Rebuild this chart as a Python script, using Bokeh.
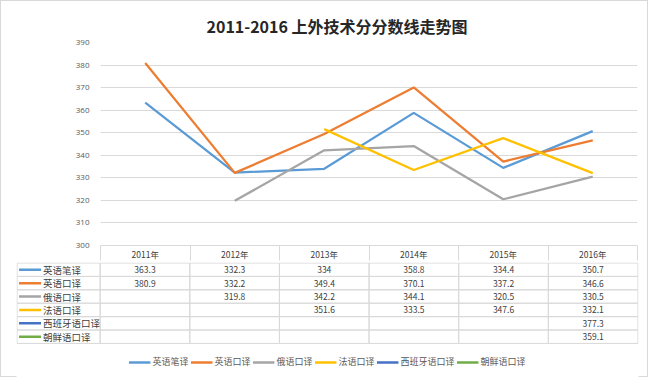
from bokeh.plotting import figure
from bokeh.models import Range1d, FixedTicker, Legend, LegendItem
from bokeh.embed import file_html
from bokeh.resources import INLINE
from bokeh.core.properties import value

title = "2011-2016 上外技术分分数线走势图"
years = ["2011年", "2012年", "2013年", "2014年", "2015年", "2016年"]
series_names = ["英语笔译", "英语口译", "俄语口译", "法语口译", "西班牙语口译", "朝鲜语口译"]
yingyu_bi = [363.3, 332.3, 334, 358.8, 334.4, 350.7]
yingyu_kou = [380.9, 332.2, 349.4, 370.1, 337.2, 346.6]
eyu_kou = [None, 319.8, 342.2, 344.1, 320.5, 330.5]
fayu_kou = [None, None, 351.6, 333.5, 347.6, 332.1]
xibanya_kou = [None, None, None, None, None, 377.3]
chaoxian_kou = [None, None, None, None, None, 359.1]
y_ticks = [300, 310, 320, 330, 340, 350, 360, 370, 380, 390]

series_values = [yingyu_bi, yingyu_kou, eyu_kou, fayu_kou, xibanya_kou, chaoxian_kou]
colors = ["#5B9BD5", "#ED7D31", "#A5A5A5", "#FFC000", "#4472C4", "#70AD47"]
FONT = "Noto Sans CJK SC"
GRID = "#d9d9d9"
n = len(years)
centers = [j + 0.5 for j in range(n)]

# ---------- chart (with header row as its x axis) ----------
p = figure(width=648, height=262, x_range=Range1d(0, n),
           y_range=Range1d(y_ticks[0], y_ticks[-1]),
           output_backend="svg", toolbar_location=None,
           min_border_left=100, min_border_right=11, min_border_top=42,
           min_border_bottom=15)
p.border_fill_color = None
p.styles = {"box-shadow": "inset 1px 1px 0 0 #d9d9d9, inset -1px 0 0 0 #d9d9d9"}
p.title.text = title
p.title.align = "left"
p.title.offset = 106
p.title.text_font = FONT
p.title.text_font_size = "16px"
p.title.text_font_style = "bold"
p.title.text_color = "#262626"
p.xgrid.visible = False
p.ygrid.grid_line_color = GRID
p.yaxis.ticker = FixedTicker(ticks=y_ticks)
p.yaxis.axis_line_color = None
p.yaxis.major_tick_line_color = None
p.yaxis.minor_tick_line_color = None
p.yaxis.major_label_text_font_size = "8px"
p.yaxis.major_label_text_color = "#595959"
p.yaxis.major_label_text_font = "Open Sans"
p.yaxis.major_label_standoff = 5

p.xaxis.ticker = FixedTicker(ticks=centers, minor_ticks=list(range(n + 1)))
p.xaxis.major_label_overrides = {c: y for c, y in zip(centers, years)}
p.xaxis.axis_line_color = GRID
p.xaxis.major_tick_line_color = None
p.xaxis.major_tick_out = 0
p.xaxis.major_tick_in = 0
p.xaxis.minor_tick_line_color = GRID
p.xaxis.minor_tick_out = 15
p.xaxis.minor_tick_in = 0
p.xaxis.major_label_standoff = -13
p.xaxis.major_label_text_font = FONT
p.xaxis.major_label_text_font_size = "8.5px"
p.xaxis.major_label_text_color = "#404040"
p.outline_line_color = None

for vals, c in zip(series_values, colors):
    yy = [float("nan") if v is None else v for v in vals]
    p.line(x=centers, y=yy, line_color=c, line_width=2.25)

# ---------- table body + legend ----------
w = 83 / 89.5
row_px = 13.4
t_height = 115
t = figure(width=648, height=t_height,
           x_range=Range1d(-w - 0.006, n + 0.006),
           y_range=Range1d(t_height / row_px - 0.04, -0.04),
           output_backend="svg", toolbar_location=None,
           min_border_left=16, min_border_right=10, min_border_top=0,
           min_border_bottom=0)
t.border_fill_color = None
t.styles = {"box-shadow": "inset 1px -1px 0 0 #d9d9d9, inset -1px 0 0 0 #d9d9d9"}
t.axis.visible = False
t.grid.visible = False
t.outline_line_color = None

L, R, T, B = [], [], [], []
for i in range(len(series_names)):
    for j in range(n):
        L.append(j); R.append(j + 1); T.append(i); B.append(i + 1)
    L.append(-w); R.append(0); T.append(i); B.append(i + 1)
t.quad(left=L, right=R, top=T, bottom=B, fill_color=None, line_color=GRID)

vx, vy, vt = [], [], []
for i, vals in enumerate(series_values):
    for j, v in enumerate(vals):
        if v is not None:
            vx.append(j + 0.5); vy.append(i + 0.5); vt.append(f"{v:g}")
t.text(x=vx, y=vy, text=vt, text_align="center", text_baseline="middle",
       text_font=value(FONT), text_font_size="8.5px", text_color="#404040")

items = []
for i, (name, c) in enumerate(zip(series_names, colors)):
    r = t.segment(x0=[-w + 0.022], y0=[i + 0.5], x1=[-w + 0.268], y1=[i + 0.5],
                  line_color=c, line_width=2.5)
    items.append(LegendItem(label=name, renderers=[r]))
t.text(x=[-w + 0.29] * len(series_names),
       y=[i + 0.5 for i in range(len(series_names))], text=series_names,
       text_align="left", text_baseline="middle", text_font=value(FONT),
       text_font_size="9.5px", text_color="#404040")

legend = Legend(items=items, orientation="horizontal", location="bottom_center",
                label_text_font=FONT, label_text_font_size="9px",
                label_text_color="#595959", glyph_width=22, glyph_height=10,
                label_standoff=2, spacing=2, padding=0, margin=9,
                border_line_color=None, background_fill_alpha=0)
t.add_layout(legend)

open("out.html", "w").write(file_html([p, t], INLINE))
